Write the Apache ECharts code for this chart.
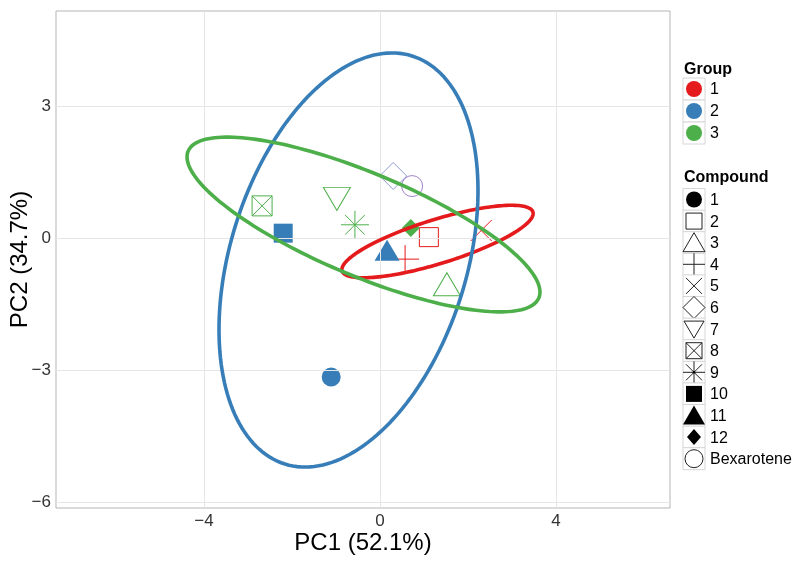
<!DOCTYPE html>
<html><head><meta charset="utf-8">
<script src="https://cdn.jsdelivr.net/npm/echarts@6/dist/echarts.min.js"></script>
<style>html,body{margin:0;padding:0;background:#fff}#c{width:800px;height:564px}</style>
</head><body><div id="c"></div>
<script>
// ---------------- data ----------------
const compounds = ['1','2','3','4','5','6','7','8','9','10','11','12','Bexarotene'];
const compoundGroup = ['2','1','3','1','1','2','3','3','3','2','2','3','B'];
const pc1 = [-1.11, 1.11, 1.52, 0.57, 2.30, 0.30, -0.98, -2.68, -0.57, -2.20, 0.16, 0.70, 0.73];
const pc2 = [-3.16, 0.02, -1.05, -0.48, 0.17, 1.41, 0.89, 0.73, 0.30, 0.11, -0.28, 0.23, 1.18];
const groups = ['1','2','3'];
// ellipse parameters per group (centre, semi-axes, rotation in degrees)
const ellipseCx = [1.307, -0.716, -0.375];
const ellipseCy = [-0.08, -0.50, 0.307];
const ellipseA = [2.27, 4.857, 4.32];
const ellipseB = [0.50, 2.686, 1.17];
const ellipseAngle = [17.2, 72.7, -22.7];
const xTicks = [-4, 0, 4];
const yTicks = [-6, -3, 0, 3];
const xRange = [-7.364, 6.591];
const yRange = [-6.136, 5.159];

// ---------------- style ----------------
const groupColors = {'1':'#E41A1C','2':'#377EB8','3':'#4DAF4A','B':'#A383C9'};
const pointColorOverride = {'6':'#8F9BD3'};
const shapes = {
  '1':  {symbol:'circle', size:19, filled:true},
  '2':  {symbol:'rect', size:19, filled:false},
  '3':  {symbol:'triangle', size:[27,23], filled:false},
  '4':  {symbol:'path://M0,10L20,10M10,0L10,20', size:28, filled:false},
  '5':  {symbol:'path://M0,0L20,20M20,0L0,20', size:21, filled:false},
  '6':  {symbol:'diamond', size:[27,27], filled:false},
  '7':  {symbol:'path://M0,0L24,0L12,21Z', size:[27,23], filled:false},
  '8':  {symbol:'path://M0,0L20,0L20,20L0,20ZM0,0L20,20M20,0L0,20', size:20, filled:false},
  '9':  {symbol:'path://M0,10L20,10M10,0L10,20M3,3L17,17M17,3L3,17', size:28, filled:false},
  '10': {symbol:'rect', size:19, filled:true},
  '11': {symbol:'triangle', size:[25,21], filled:true},
  '12': {symbol:'diamond', size:[18,18], filled:true},
  'Bexarotene': {symbol:'circle', size:21, filled:false}
};
const minus = v => String(v).replace('-', '\u2212');
const FONT = 'Liberation Sans, Arial, Helvetica, sans-serif';

const series = [];
// grid lines through the axes' own scale
series.push({
  type:'line', data:[], silent:true, z:1,
  markLine:{
    silent:true, symbol:'none', label:{show:false}, animation:false,
    lineStyle:{color:'#e6e6e6', width:1, type:'solid'},
    data: xTicks.map(v=>({xAxis:v})).concat(yTicks.map(v=>({yAxis:v})))
  }
});
compounds.forEach((name, i) => {
  const s = shapes[name];
  const col = pointColorOverride[name] || groupColors[compoundGroup[i]];
  series.push({
    type:'scatter', name:name, z:3, silent:true,
    symbol:s.symbol, symbolSize:s.size,
    itemStyle: s.filled ? {color:col, borderWidth:0, opacity:1}
                        : {color:'rgba(0,0,0,0)', borderColor:col, borderWidth:1, opacity:1},
    emphasis:{disabled:true},
    data:[[pc1[i], pc2[i]]]
  });
});
series.push({
  type:'custom', coordinateSystem:'cartesian2d', z:6, silent:true,
  encode:{x:0, y:1},
  data: groups.map((g,i)=>[ellipseCx[i], ellipseCy[i], ellipseA[i], ellipseB[i], ellipseAngle[i], i]),
  renderItem:(params, api)=>{
    const cx=api.value(0), cy=api.value(1), a=api.value(2), b=api.value(3);
    const ang=api.value(4)*Math.PI/180, gi=api.value(5);
    const pts=[];
    for (let k=0;k<=180;k++){
      const t=2*Math.PI*k/180, u=a*Math.cos(t), v=b*Math.sin(t);
      pts.push(api.coord([cx+u*Math.cos(ang)-v*Math.sin(ang), cy+u*Math.sin(ang)+v*Math.cos(ang)]));
    }
    return {type:'polygon', shape:{points:pts}, style:{fill:'none', stroke:groupColors[groups[gi]], lineWidth:3.6}};
  }
});

// ---------------- legend (graphic) ----------------
const g = [];
const KX = 683, KW = 22, KC = 694, LX = 710;
function addText(x,y,t,bold){ g.push({type:'text', x:x, y:y, style:{text:t, fontFamily:'Liberation Sans, Arial, sans-serif', fontSize:16, fontWeight:bold?'bold':'normal', fill:'#000', verticalAlign:'middle', align:'left'}}); }
function box(y){ g.push({type:'rect', shape:{x:KX, y:y-11, width:KW, height:22}, style:{fill:'#fff', stroke:'#d6d6d6', lineWidth:1}}); }
addText(684, 70, 'Group', true);
groups.forEach((gr,i)=>{
  const y = 89 + i*22;
  box(y);
  g.push({type:'circle', shape:{cx:KC, cy:y, r:8}, style:{fill:groupColors[gr]}});
  addText(LX, y+1, gr, false);
});
addText(684, 178, 'Compound', true);
const K = '#000', S = {fill:'none', stroke:'#222', lineWidth:1};
function legendSymbol(name, cx, cy){
  switch(name){
    case '1': return [{type:'circle', shape:{cx, cy, r:8}, style:{fill:K}}];
    case '2': return [{type:'rect', shape:{x:cx-8, y:cy-8, width:16, height:16}, style:S}];
    case '3': return [{type:'polygon', shape:{points:[[cx,cy-10],[cx+11,cy+9],[cx-11,cy+9]]}, style:S}];
    case '4': return [{type:'polyline', shape:{points:[[cx-11,cy],[cx+11,cy]]}, style:S},{type:'polyline', shape:{points:[[cx,cy-11],[cx,cy+11]]}, style:S}];
    case '5': return [{type:'polyline', shape:{points:[[cx-8,cy-8],[cx+8,cy+8]]}, style:S},{type:'polyline', shape:{points:[[cx+8,cy-8],[cx-8,cy+8]]}, style:S}];
    case '6': return [{type:'polygon', shape:{points:[[cx,cy-11],[cx+11,cy],[cx,cy+11],[cx-11,cy]]}, style:S}];
    case '7': return [{type:'polygon', shape:{points:[[cx-10,cy-8],[cx+10,cy-8],[cx,cy+9]]}, style:S}];
    case '8': return [{type:'rect', shape:{x:cx-8, y:cy-8, width:16, height:16}, style:S},
                      {type:'polyline', shape:{points:[[cx-8,cy-8],[cx+8,cy+8]]}, style:S},{type:'polyline', shape:{points:[[cx+8,cy-8],[cx-8,cy+8]]}, style:S}];
    case '9': return [{type:'polyline', shape:{points:[[cx-11,cy],[cx+11,cy]]}, style:S},{type:'polyline', shape:{points:[[cx,cy-11],[cx,cy+11]]}, style:S},
                      {type:'polyline', shape:{points:[[cx-8,cy-8],[cx+8,cy+8]]}, style:S},{type:'polyline', shape:{points:[[cx+8,cy-8],[cx-8,cy+8]]}, style:S},
                      {type:'circle', shape:{cx, cy, r:1.2}, style:{fill:K}}];
    case '10': return [{type:'rect', shape:{x:cx-8, y:cy-8, width:16, height:16}, style:{fill:K}}];
    case '11': return [{type:'polygon', shape:{points:[[cx,cy-10],[cx+11,cy+9],[cx-11,cy+9]]}, style:{fill:K}}];
    case '12': return [{type:'polygon', shape:{points:[[cx,cy-8],[cx+7,cy],[cx,cy+8],[cx-7,cy]]}, style:{fill:K}}];
    default: return [{type:'circle', shape:{cx, cy, r:9}, style:S}];
  }
}
compounds.forEach((name,i)=>{
  const y = 199.5 + i*21.6;
  box(y);
  legendSymbol(name, KC, y).forEach(e=>g.push(e));
  addText(LX, y+1, name, false);
});

const option = {
  animation:false,
  backgroundColor:'#fff',
  grid:{left:56, right:130, top:11, bottom:56, show:true, borderColor:'#b5b5b5', borderWidth:1,
        containLabel:false, outerBoundsMode:'none'},
  xAxis:{
    type:'value', min:xRange[0], max:xRange[1],
    name:'PC1 (52.1%)', nameLocation:'middle', nameGap:23, nameMoveOverlap:false,
    nameTextStyle:{fontFamily:FONT, fontSize:24, color:'#000', verticalAlign:'top'},
    axisLine:{show:false},
    axisTick:{show:true, customValues:xTicks, length:4, lineStyle:{color:'#7f7f7f'}},
    axisLabel:{customValues:xTicks, formatter:minus, fontFamily:FONT, fontSize:17, color:'#333', margin:5},
    splitLine:{show:false}
  },
  yAxis:{
    type:'value', min:yRange[0], max:yRange[1],
    name:'PC2 (34.7%)', nameLocation:'middle', nameGap:24, nameRotate:90, nameMoveOverlap:false,
    nameTextStyle:{fontFamily:FONT, fontSize:24, color:'#000', verticalAlign:'bottom'},
    axisLine:{show:false},
    axisTick:{show:true, customValues:yTicks, length:4, lineStyle:{color:'#7f7f7f'}},
    axisLabel:{customValues:yTicks, formatter:minus, fontFamily:FONT, fontSize:17, color:'#333', margin:5},
    splitLine:{show:false}
  },
  series: series,
  graphic: {elements: g}
};
const chart = echarts.init(document.getElementById('c'), null, {renderer:'canvas'});
chart.setOption(option);
</script></body></html>
